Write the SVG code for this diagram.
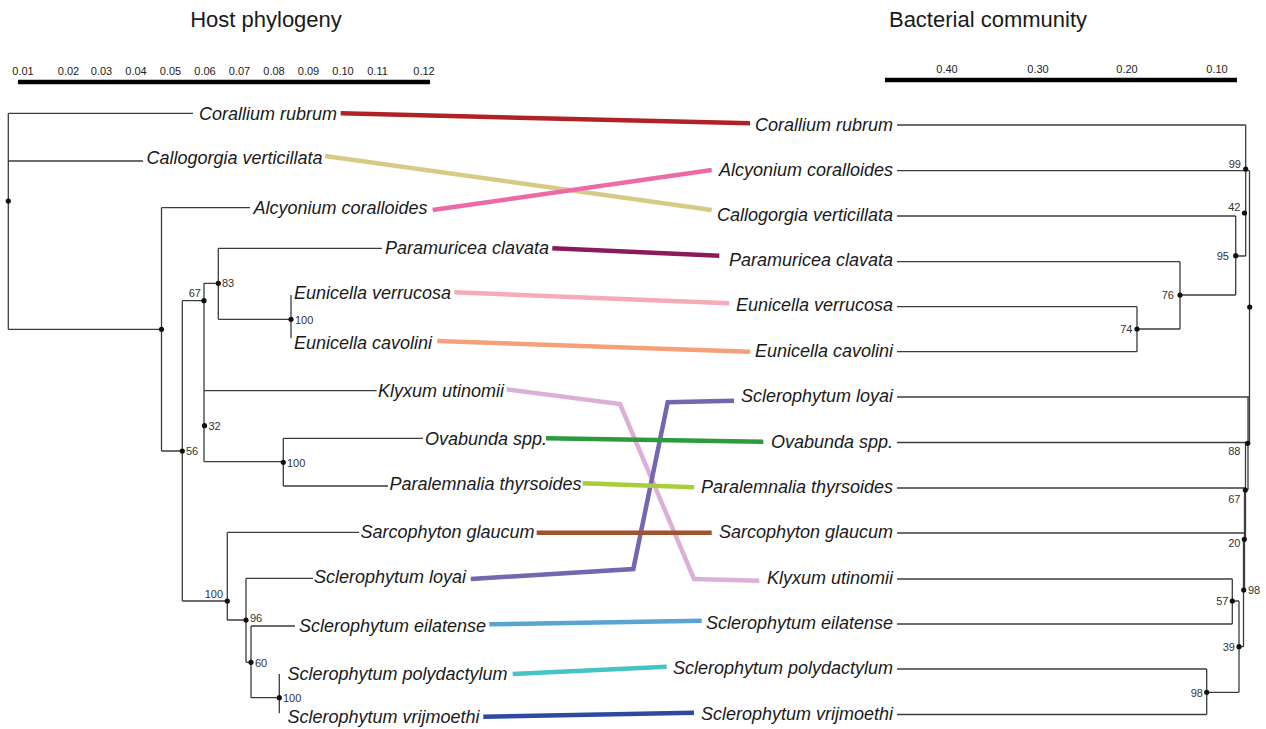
<svg xmlns="http://www.w3.org/2000/svg" width="1266" height="729" viewBox="0 0 1266 729">
<style>
.t{font-family:"Liberation Sans",Arial,sans-serif;fill:#1a1a1a}
.title{font-size:22px}
.sc{font-size:11px;fill:#222}
.sp{font-size:18px;font-style:italic}
.r{text-anchor:end}
.bs{font-size:11px;fill:#333;font-family:"Liberation Sans",Arial,sans-serif}
.tree{stroke:#3c3c3c;stroke-width:1.3;fill:none}
.dot{fill:#111}
.c{fill:none;stroke-width:4.5;stroke-linejoin:miter}
</style>
<rect width="1266" height="729" fill="#fff"/>
<text class="t title" x="266" y="27" text-anchor="middle">Host phylogeny</text>
<text class="t title" x="988" y="27" text-anchor="middle">Bacterial community</text>
<g id="scale-left">
<line x1="18" y1="82" x2="430" y2="82" stroke="#000" stroke-width="4.5"/>
<g class="t sc" text-anchor="middle">
<text x="23" y="75">0.01</text><text x="68.5" y="75">0.02</text><text x="101.5" y="75">0.03</text><text x="136" y="75">0.04</text><text x="170.5" y="75">0.05</text><text x="205" y="75">0.06</text><text x="239.5" y="75">0.07</text><text x="274" y="75">0.08</text><text x="308.5" y="75">0.09</text><text x="343" y="75">0.10</text><text x="377.5" y="75">0.11</text><text x="424" y="75">0.12</text>
</g>
</g>
<g id="scale-right">
<line x1="885" y1="80" x2="1237" y2="80" stroke="#000" stroke-width="4.5"/>
<g class="t sc" text-anchor="middle">
<text x="947" y="73">0.40</text><text x="1038" y="73">0.30</text><text x="1127" y="73">0.20</text><text x="1217" y="73">0.10</text>
</g>
</g>
<g id="host-tree">
<path class="tree" d="M8.3,113.3H193 M8.3,161H143 M8.3,113.3V329.3 M8.3,329.3H161.5 M161.5,207.7V451 M161.5,207.7H250 M161.5,451H182.3 M182.3,300.7V601 M182.3,300.7H204 M204,283.3V461.7 M204,283.3H218.3 M218.3,248.3V319.3 M218.3,248.3H382 M218.3,319.3H291 M291,295V338.3 M204,390.7H376.7 M204,461.7H283.3 M283.3,438.3V486 M283.3,438.3H423 M283.3,486H388 M182.3,601H227.3 M227.3,532.3V620 M227.3,532.3H359 M227.3,620H246 M246,578.3V662.3 M246,578.3H313 M246,662.3H251 M251,626V697.7 M251,626H295 M251,697.7H279.3 M279.3,674V713.3"/>
<g class="dot">
<circle cx="8.3" cy="201" r="2.6"/><circle cx="161.5" cy="329.3" r="2.6"/><circle cx="182.3" cy="451" r="2.6"/><circle cx="204" cy="300.7" r="2.6"/><circle cx="218.3" cy="283.3" r="2.6"/><circle cx="291" cy="319.3" r="2.6"/><circle cx="204.5" cy="425.7" r="2.6"/><circle cx="283.3" cy="462.3" r="2.6"/><circle cx="227.3" cy="601" r="2.6"/><circle cx="246" cy="620" r="2.6"/><circle cx="251" cy="662.3" r="2.6"/><circle cx="279.3" cy="697.7" r="2.6"/>
</g>
<g class="bs">
<text x="222" y="287">83</text><text x="201" y="297" text-anchor="end">67</text><text x="295" y="323.5">100</text><text x="208.5" y="430">32</text><text x="186" y="455">56</text><text x="287" y="466.5">100</text><text x="223" y="598" text-anchor="end">100</text><text x="250" y="622">96</text><text x="255" y="666.5">60</text><text x="283" y="702">100</text>
</g>
</g>
<g id="bacterial-tree">
<path class="tree" d="M897,125H1245.7 M1245.7,125V256 M897,170.7H1249.5 M1249.5,170.7V443 M897,216H1235.7 M1235.7,216V295 M1235.7,256H1245.7 M897,261.7H1180 M1180,261.7V329 M1180,295H1235.7 M897,306.7H1137 M897,351.7H1137 M1137,306.7V351.7 M1137,329H1180 M897,397H1249 M897,442.5H1248 M1248,397V490 M897,488H1245.5 M1245.5,443V539 M897,533H1244.5 M1244.5,490V590 M1243.5,539V647 M897,579H1232.3 M897,624H1232.3 M1232.3,579V624 M1232.3,601H1239 M1239,601V692.3 M1239,646.7H1243.5 M897,669H1206.7 M897,714.5H1206.7 M1206.7,669V714.5 M1206.7,692.3H1239"/>
<g class="dot">
<circle cx="1245.7" cy="169" r="2.6"/><circle cx="1244.5" cy="213" r="2.6"/><circle cx="1235.7" cy="255.7" r="2.6"/><circle cx="1180" cy="295" r="2.6"/><circle cx="1137" cy="329" r="2.6"/><circle cx="1249.7" cy="307" r="2.6"/><circle cx="1247.7" cy="443.3" r="2.6"/><circle cx="1245.3" cy="490" r="2.6"/><circle cx="1244.3" cy="539.3" r="2.6"/><circle cx="1243.7" cy="590" r="2.6"/><circle cx="1232.3" cy="601" r="2.6"/><circle cx="1239" cy="646.7" r="2.6"/><circle cx="1206.7" cy="692.3" r="2.6"/>
</g>
<g class="bs" text-anchor="end">
<text x="1241" y="167.5">99</text><text x="1240.5" y="211">42</text><text x="1229" y="260">95</text><text x="1174" y="299">76</text><text x="1132.5" y="333">74</text><text x="1240.5" y="455">88</text><text x="1240.5" y="502.5">67</text><text x="1240.5" y="547">20</text><text x="1228.5" y="605">57</text><text x="1235" y="651">39</text><text x="1203" y="696.5">98</text>
</g>
<text class="bs" x="1248" y="594">98</text>
</g>
<g id="host-labels" class="t sp">
<g id="h-corallium"><text x="199" y="119.5">Corallium rubrum</text></g>
<g id="h-callogorgia"><text x="146.5" y="164">Callogorgia verticillata</text></g>
<g id="h-alcyonium"><text x="253.5" y="214">Alcyonium coralloides</text></g>
<g id="h-paramuricea"><text x="385" y="253.5">Paramuricea clavata</text></g>
<g id="h-eunicella-v"><text x="294" y="298.5">Eunicella verrucosa</text></g>
<g id="h-eunicella-c"><text x="294" y="348.5">Eunicella cavolini</text></g>
<g id="h-klyxum"><text x="378" y="397">Klyxum utinomii</text></g>
<g id="h-ovabunda"><text x="425" y="444.5">Ovabunda spp.</text></g>
<g id="h-paralemnalia"><text x="389.5" y="490">Paralemnalia thyrsoides</text></g>
<g id="h-sarcophyton"><text x="360.5" y="537.5">Sarcophyton glaucum</text></g>
<g id="h-loyai"><text x="314" y="583">Sclerophytum loyai</text></g>
<g id="h-eilatense"><text x="299" y="631.5">Sclerophytum eilatense</text></g>
<g id="h-polydactylum"><text x="287.5" y="679.5">Sclerophytum polydactylum</text></g>
<g id="h-vrijmoethi"><text x="287.5" y="722.5">Sclerophytum vrijmoethi</text></g>
</g>
<g id="bact-labels" class="t sp r">
<g id="b-corallium"><text x="893" y="130.5">Corallium rubrum</text></g>
<g id="b-alcyonium"><text x="893" y="175.5">Alcyonium coralloides</text></g>
<g id="b-callogorgia"><text x="893" y="220.5">Callogorgia verticillata</text></g>
<g id="b-paramuricea"><text x="893" y="266">Paramuricea clavata</text></g>
<g id="b-eunicella-v"><text x="893" y="311">Eunicella verrucosa</text></g>
<g id="b-eunicella-c"><text x="893" y="356.5">Eunicella cavolini</text></g>
<g id="b-loyai"><text x="893" y="402">Sclerophytum loyai</text></g>
<g id="b-ovabunda"><text x="893" y="447.5">Ovabunda spp.</text></g>
<g id="b-paralemnalia"><text x="893" y="493">Paralemnalia thyrsoides</text></g>
<g id="b-sarcophyton"><text x="893" y="538">Sarcophyton glaucum</text></g>
<g id="b-klyxum"><text x="893" y="583.5">Klyxum utinomii</text></g>
<g id="b-eilatense"><text x="893" y="629">Sclerophytum eilatense</text></g>
<g id="b-polydactylum"><text x="893" y="674">Sclerophytum polydactylum</text></g>
<g id="b-vrijmoethi"><text x="893" y="719.5">Sclerophytum vrijmoethi</text></g>
</g>
<g id="connectors">
<polyline class="c" stroke="#b02226" points="340.7,113.3 750,123.3"/>
<polyline class="c" stroke="#d6cb84" points="325,156 711.7,210"/>
<polyline class="c" stroke="#ec6aa8" points="432.7,210 711.7,170"/>
<polyline class="c" stroke="#8a1a5c" points="552.3,248.3 719.3,255.7"/>
<polyline class="c" stroke="#f7abb8" points="454.3,292.3 729.3,303.3"/>
<polyline class="c" stroke="#f6a07a" points="437.3,341 750,351.7"/>
<polyline class="c" stroke="#dcb0d6" points="506.7,389.3 620,404 694,579 759.3,580.7"/>
<polyline class="c" stroke="#7467b0" points="470.7,579 633.3,569 667.7,402.3 734,400.7"/>
<polyline class="c" stroke="#2c9b3c" points="546,438.3 763.3,441.7"/>
<polyline class="c" stroke="#a6cf3a" points="582.7,483.3 694,487.3"/>
<polyline class="c" stroke="#a0522d" points="536.7,532.7 711.7,532.7"/>
<polyline class="c" stroke="#5aa3d4" points="489.3,624.3 701.7,620.7"/>
<polyline class="c" stroke="#46c3c3" points="512.7,674 666.7,666.7"/>
<polyline class="c" stroke="#2e4aa0" points="483.3,716.7 694,712.7"/>
</g>
</svg>
